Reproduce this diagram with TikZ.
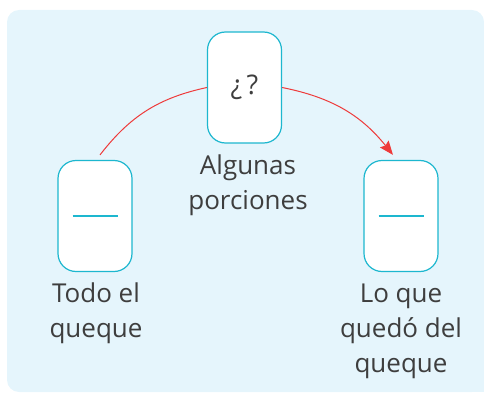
\documentclass[tikz,border=0pt]{standalone}
\usepackage{fontspec}
\setmainfont{Open Sans}
\usetikzlibrary{arrows.meta}
\definecolor{bgblue}{HTML}{E5F5FC}
\definecolor{boxcyan}{HTML}{1DB7CF}
\definecolor{arrred}{HTML}{EE3A3A}
\definecolor{txtgray}{HTML}{3E3E3E}
\tikzset{
  card/.style={draw=boxcyan, line width=1.2pt, fill=white, rounded corners=18pt,
    minimum width=74pt, minimum height=111pt, inner sep=0pt, text=txtgray,
    font=\fontsize{27}{30}\selectfont},
  lbl/.style={text=txtgray, align=center, inner sep=0pt,
    font=\fontsize{26}{35}\selectfont},
  conn/.style={draw=arrred, line width=1pt},
  fracline/.style={draw=boxcyan, line width=1.2pt}
}
\begin{document}
\begin{tikzpicture}[x=1pt,y=-1pt]
\useasboundingbox (0,0) rectangle (484,393);
\fill[bgblue, rounded corners=12pt] (7,10) rectangle (484,392);
\fill[bgblue] (460,370) rectangle (484,392);
\node[card] (top) at (244.5,87.5) {¿\,?};
\node[card] (left) at (95,216) {};
\node[card] (right) at (401,216) {};
\draw[fracline] ([xshift=-22.5pt]left.center) -- ([xshift=22.5pt]left.center);
\draw[fracline] ([xshift=-22.5pt]right.center) -- ([xshift=22.5pt]right.center);
\coordinate (s) at ([xshift=5pt,yshift=5pt]left.north);
\coordinate (e) at ([xshift=-8pt,yshift=5pt]right.north);
\draw[conn] (s) to[bend left=20] (top.west);
\draw[conn, -{Stealth[length=14pt,width=11pt,inset=2pt]}] (top.east) to[bend left=20] (e);
\node[lbl] (alg) at (248,185) {Algunas\\porciones};
\node[lbl] (todo) at (96,313) {Todo el\\queque};
\node[lbl] (lo) at (401,331) {Lo que\\quedó del\\queque};
\end{tikzpicture}
\end{document}
